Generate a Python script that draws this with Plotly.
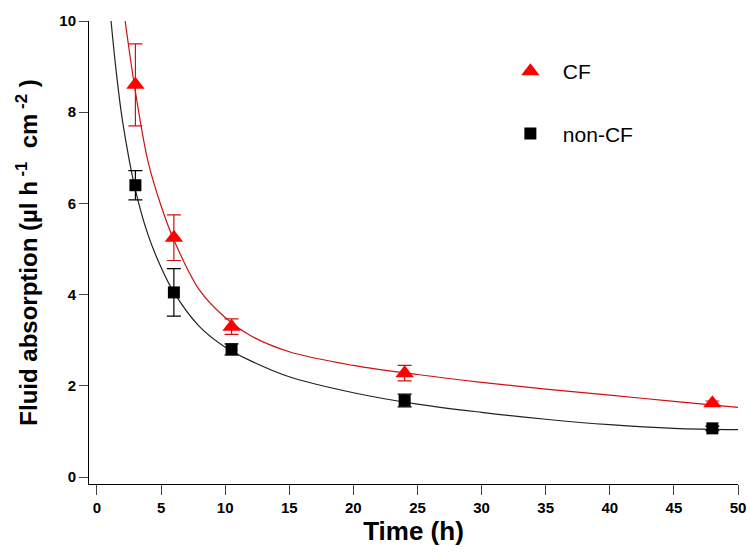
import plotly.graph_objects as go

# measured data
time_h = [3, 6, 10.5, 24, 48]
cf_vals = [8.6, 5.25, 3.3, 2.28, 1.62]
cf_err = [0.9, 0.5, 0.17, 0.17, 0.05]
noncf_vals = [6.4, 4.05, 2.8, 1.68, 1.07]
noncf_err = [0.32, 0.52, 0.12, 0.14, 0.05]

# fitted curves
cf_fit_x = [2.2, 3, 4, 5, 6, 8, 10, 12, 15, 20, 25, 30, 35, 40, 45, 50]
cf_fit_y = [10, 8.45, 6.9, 5.95, 5.2, 4.1, 3.5, 3.1, 2.75, 2.45, 2.25, 2.08, 1.93, 1.8, 1.66, 1.53]
noncf_fit_x = [1.1, 1.5, 2, 3, 4, 5, 6, 8, 10, 12, 15, 20, 25, 30, 35, 40, 45, 50]
noncf_fit_y = [10, 8.9, 7.8, 6.3, 5.3, 4.6, 4.05, 3.3, 2.85, 2.55, 2.2, 1.85, 1.6, 1.42, 1.27, 1.15, 1.07, 1.04]

x_ticks = [0, 5, 10, 15, 20, 25, 30, 35, 40, 45, 50]
y_ticks = [0, 2, 4, 6, 8, 10]

RED = "#ff0000"
DRED = "#d01010"
BLACK = "#000000"

fig = go.Figure()
fig.add_trace(go.Scatter(x=cf_fit_x, y=cf_fit_y, mode="lines", line=dict(color=DRED, width=1.2, shape="spline"),
                         showlegend=False, hoverinfo="skip"))
fig.add_trace(go.Scatter(x=noncf_fit_x, y=noncf_fit_y, mode="lines", line=dict(color="#222222", width=1.2, shape="spline"),
                         showlegend=False, hoverinfo="skip"))
fig.add_trace(go.Scatter(x=time_h, y=cf_vals, mode="markers", name="CF",
                         marker=dict(symbol="triangle-up", size=16, color=RED),
                         error_y=dict(type="data", array=cf_err, color=DRED, thickness=1.2, width=7),
                         legendgroup="a"))
fig.add_trace(go.Scatter(x=time_h, y=noncf_vals, mode="markers", name="non-CF",
                         marker=dict(symbol="square", size=12, color=BLACK),
                         error_y=dict(type="data", array=noncf_err, color=BLACK, thickness=1.2, width=7),
                         legendgroup="b"))

tick_font = dict(family="Liberation Sans Narrow, Liberation Sans, Arial", size=15, color="black", weight="bold")
fig.update_layout(
    width=750, height=554,
    margin=dict(l=89, r=12, t=21, b=70),
    plot_bgcolor="white", paper_bgcolor="white",
    showlegend=True,
    legend=dict(x=0.63, y=0.935, xanchor="left", yanchor="top",
                font=dict(family="Liberation Sans, Arial", size=21, color="black"),
                traceorder="grouped", tracegroupgap=32, itemsizing="trace", itemwidth=55,
                bgcolor="rgba(0,0,0,0)"),
    xaxis=dict(range=[-0.62, 50], tickvals=x_ticks, ticks="outside", ticklen=10, tickwidth=1,
               showline=True, linecolor="black", linewidth=1, showgrid=False, zeroline=False,
               tickfont=tick_font, automargin=False,
               title=dict(text="<b>Time (h)</b>", font=dict(family="Liberation Sans Narrow, Liberation Sans, Arial", size=26, color="black"), standoff=1)),
    yaxis=dict(range=[-0.15, 10], tickvals=y_ticks, ticks="outside", ticklen=9, tickwidth=1,
               showline=True, linecolor="black", linewidth=1, showgrid=False, zeroline=False,
               tickfont=tick_font, automargin=False,
               title=dict(text="<b>Fluid absorption (µl h<sup> -1</sup>  cm<sup> -2</sup> )</b>",
                          font=dict(family="Liberation Sans, Arial", size=24, color="black"), standoff=14)),
)
fig.write_html("out.html", config={"displayModeBar": False},
               post_script="document.body.style.margin='0';")
